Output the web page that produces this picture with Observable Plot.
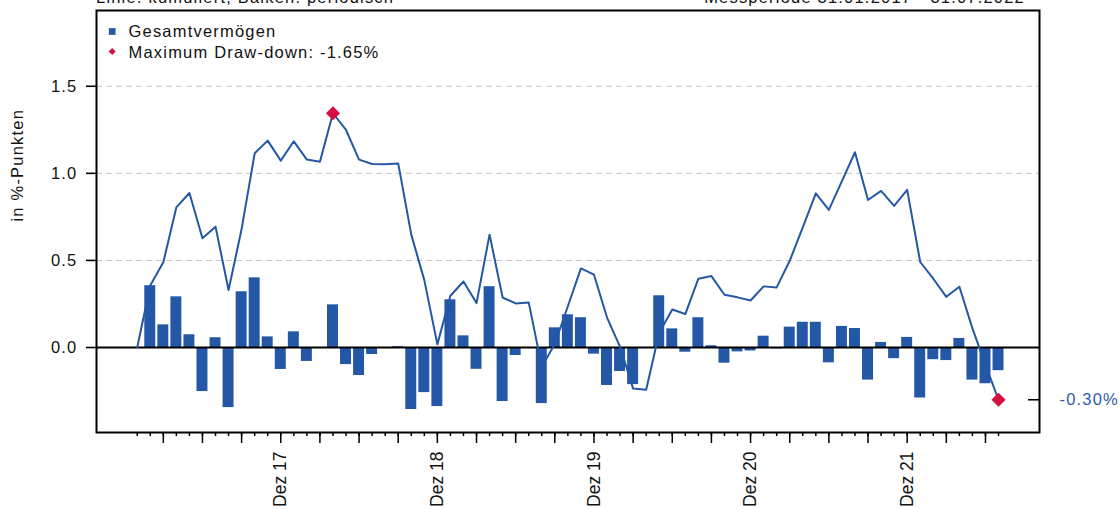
<!DOCTYPE html>
<html><head><meta charset="utf-8">
<script src="https://cdn.jsdelivr.net/npm/d3@7"></script>
<script src="https://cdn.jsdelivr.net/npm/@observablehq/plot@0.6"></script>
<style>
html,body{margin:0;padding:0;background:#fff;}
#wrap{position:relative;width:1119px;height:509px;overflow:hidden;font-family:"Liberation Sans",Arial,sans-serif;}
.hdr{position:absolute;top:-11px;font-size:16.5px;letter-spacing:1.2px;line-height:16.5px;color:#111;white-space:nowrap;}
#chart{position:absolute;left:0;top:0;}
</style></head><body>
<div id="wrap">
<div id="chart"></div>
<div class="hdr" style="left:96px">Linie: kumuliert, Balken: periodisch</div>
<div class="hdr" style="right:94px">Messperiode 31.01.2017 - 31.07.2022</div>
</div>
<script>
// month index 0 = Jan 2017 ... 66 = Jul 2022
const firstMonth = "2017-01";
// periodic values (bars), index 0 has no bar
const periodic = [null,
  0.355, 0.130, 0.291, 0.073, -0.253, 0.056, -0.345, 0.320, 0.400, 0.061, -0.126, 0.090,
  -0.080, -0.005, 0.245, -0.098, -0.161, -0.040, 0.000, 0.005, -0.356, -0.259, -0.339, 0.274,
  0.067, -0.125, 0.349, -0.310, -0.046, 0.000, -0.322, 0.113, 0.188, 0.171, -0.038, -0.218,
  -0.138, -0.213, 0.000, 0.297, 0.107, -0.027, 0.171, 0.010, -0.090, -0.025, -0.020, 0.065,
  -0.008, 0.117, 0.145, 0.145, -0.088, 0.121, 0.109, -0.187, 0.029, -0.064, 0.058, -0.290,
  -0.070, -0.075, 0.052, -0.187, -0.208, -0.133];
// cumulative values (line)
const cumulative = [0,
  0.356, 0.489, 0.805, 0.887, 0.627, 0.694, 0.330, 0.680, 1.115, 1.188, 1.073, 1.184,
  1.079, 1.067, 1.345, 1.249, 1.079, 1.054, 1.052, 1.057, 0.648, 0.387, 0.018, 0.297,
  0.379, 0.255, 0.648, 0.287, 0.253, 0.259, -0.110, 0.020, 0.237, 0.454, 0.418, 0.172,
  0.004, -0.236, -0.243, 0.085, 0.218, 0.192, 0.395, 0.410, 0.303, 0.288, 0.270, 0.351,
  0.345, 0.498, 0.690, 0.885, 0.790, 0.955, 1.121, 0.847, 0.899, 0.813, 0.905, 0.491,
  0.395, 0.291, 0.349, 0.110, -0.100, -0.300];
const seriesName = "Gesamtvermögen";
const drawdownLabel = "Maximum Draw-down: -1.65%";
const yLabel = "in %-Punkten";
const xTickLabels = ["Dez 17", "Dez 18", "Dez 19", "Dez 20", "Dez 21"];
const xTickMonths = [11, 23, 35, 47, 59];
const yTicks = [0, 0.5, 1.0, 1.5];
const gridValues = [0.5, 1.0, 1.5];

const C = "#2457a5";
const RED = "#d50f3f";
const xMin = -3.12, xMax = 69.14;
const data = cumulative.map((v, i) => ({i, cum: v, per: periodic[i]}));
const bars = data.filter(d => d.per != null);
const peakI = d3.maxIndex(cumulative);
const lastI = cumulative.length - 1;
const markers = [data[peakI], data[lastI]];
const allMonths = d3.range(cumulative.length);
const majorMonths = allMonths.filter(i => i % 3 === 2);

const chart = Plot.plot({
  width: 1119, height: 509,
  marginLeft: 96, marginRight: 80, marginTop: 10, marginBottom: 77,
  x: {type: "linear", domain: [xMin, xMax], axis: null},
  y: {domain: [-0.488, 1.935], axis: null},
  style: {fontFamily: "Liberation Sans, Arial, sans-serif", background: "white", overflow: "visible", color: "#111"},
  marks: [
    Plot.ruleY(gridValues, {stroke: "#c4c4c4", strokeDasharray: "6,4", strokeWidth: 1}),
    Plot.rectY(bars, {x1: d => d.i - 0.42, x2: d => d.i + 0.42, y1: 0, y2: "per", fill: C}),
    Plot.ruleY([0], {stroke: "#000", strokeWidth: 1.8}),
    Plot.line(data, {x: "i", y: "cum", stroke: C, strokeWidth: 2}),
    Plot.dot(markers, {x: "i", y: "cum", symbol: "diamond2", r: 6.4, fill: RED, stroke: "none"}),
    Plot.frame({stroke: "#000", strokeWidth: 2}),
    Plot.axisY(yTicks, {anchor: "left", tickSize: 10, tickPadding: 9, tickFormat: d => d.toFixed(1), fontSize: 16.5, stroke: "#000", strokeWidth: 1.6, label: null}),
    Plot.text([yLabel], {frameAnchor: "left", dx: -79, rotate: -90, fontSize: 16.5, fill: "#111"}),
    Plot.axisX(allMonths, {anchor: "bottom", tickSize: 4, tickFormat: () => "", stroke: "#000", strokeWidth: 1.5, label: null}),
    Plot.axisX(majorMonths, {anchor: "bottom", tickSize: 11, tickFormat: () => "", stroke: "#000", strokeWidth: 1.5, label: null}),
    Plot.text(xTickMonths, {x: d => d, text: (d, i) => xTickLabels[i], frameAnchor: "bottom", rotate: -90, textAnchor: "end", lineAnchor: "middle", dy: 19, fontSize: 17.5, fill: "#111"}),
    Plot.ruleY([data[lastI]], {y: "cum", x1: xMax - 0.84, x2: xMax, stroke: "#000", strokeWidth: 1.6}),
    Plot.text([data[lastI]], {y: "cum", frameAnchor: "right", textAnchor: "start", lineAnchor: "middle", dx: 20, text: d => d.cum.toFixed(2) + "%", fill: "#2e5ca8", fontSize: 16.5}),
    Plot.dot([0], {frameAnchor: "top-left", dx: 15.7, dy: 21, symbol: "square", r: 3.8, fill: C, stroke: "none"}),
    Plot.text([seriesName], {frameAnchor: "top-left", dx: 32, dy: 21, textAnchor: "start", lineAnchor: "middle", fontSize: 16.5, fill: "#111"}),
    Plot.dot([0], {frameAnchor: "top-left", dx: 15.7, dy: 41, symbol: "diamond2", r: 3.2, fill: RED, stroke: "none"}),
    Plot.text([drawdownLabel], {frameAnchor: "top-left", dx: 32, dy: 42.5, textAnchor: "start", lineAnchor: "middle", fontSize: 16.5, fill: "#111"})
  ]
});
d3.select(chart).selectAll("text").each(function() {
  const isX = xTickLabels.includes(this.textContent);
  this.style.letterSpacing = isX ? "0px" : "1.2px";
});
document.getElementById("chart").appendChild(chart);
</script>
</body></html>
